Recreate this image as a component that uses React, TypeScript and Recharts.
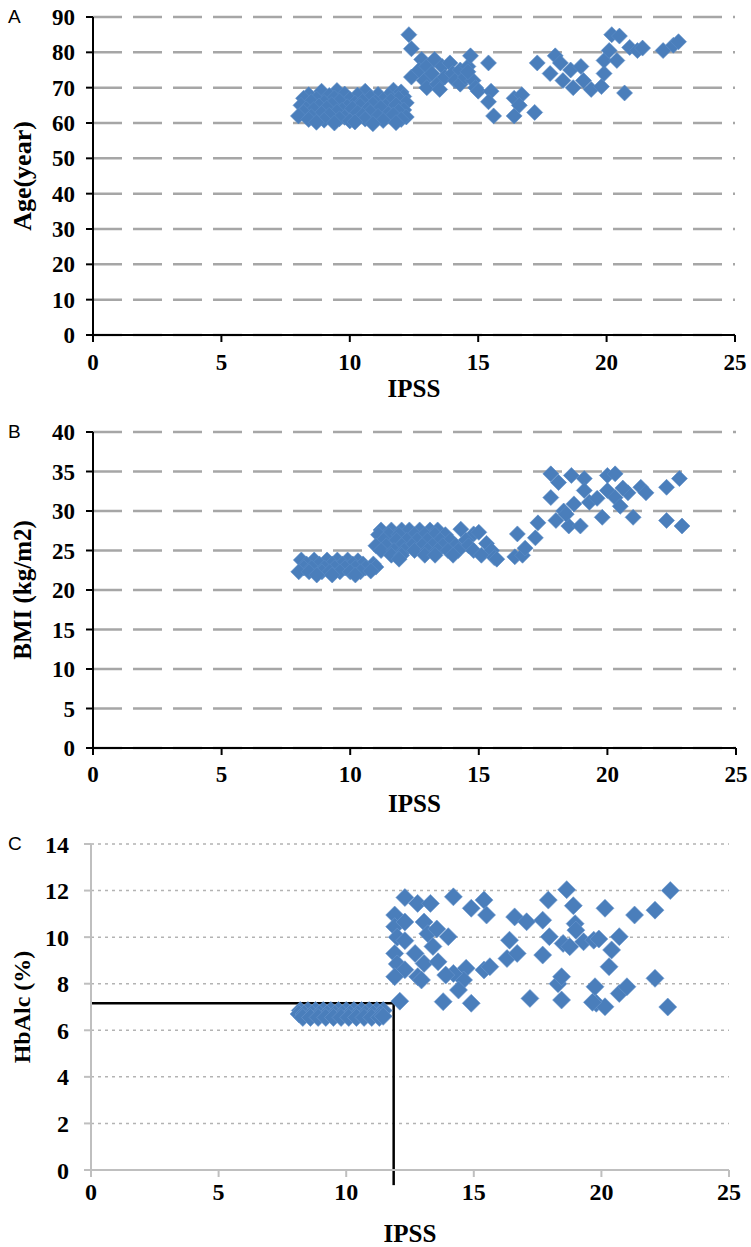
import React from "react";
import { ScatterChart, Scatter, XAxis, YAxis, CartesianGrid, ReferenceLine } from "recharts";

const ipssTicks = [0, 5, 10, 15, 20, 25];
const ageTicks = [0, 10, 20, 30, 40, 50, 60, 70, 80, 90];
const bmiTicks = [0, 5, 10, 15, 20, 25, 30, 35, 40];
const hba1cTicks = [0, 2, 4, 6, 8, 10, 12, 14];

// [IPSS, age]
const agePoints: [number, number][] = [
  [8.9, 69], [9.5, 69.2], [10.6, 69], [11.7, 69.3], [12.0, 68.8],
  [8.4, 68], [9.2, 67.8], [9.8, 68.2], [10.3, 67.9], [11.1, 68.1], [11.5, 67.7], [12.1, 67.5],
  [8.2, 67], [8.7, 66.8], [9.4, 67.1], [10.0, 66.7], [10.8, 67.2], [11.3, 66.5], [11.9, 66.9],
  [8.5, 66], [9.0, 65.8], [9.6, 66.2], [10.2, 65.6], [10.5, 66.1], [11.0, 65.9], [11.6, 66.3], [12.2, 65.7],
  [8.1, 65], [8.8, 64.8], [9.3, 65.2], [9.9, 64.6], [10.4, 64.9], [10.9, 65.3], [11.4, 64.7], [11.8, 65.1],
  [8.3, 64], [8.6, 63.8], [9.1, 64.2], [9.7, 63.6], [10.1, 64.1], [10.7, 63.9], [11.2, 64.3], [12.1, 63.7],
  [8.2, 63], [8.9, 62.7], [9.5, 63.2], [10.3, 62.9], [10.8, 63.1], [11.5, 62.6], [11.9, 63.3],
  [8.0, 62], [8.5, 61.8], [9.2, 62.2], [9.8, 61.6], [10.5, 62.1], [11.1, 61.9], [11.7, 62.3], [12.2, 61.7],
  [8.4, 61], [9.0, 60.8], [9.6, 61.2], [10.0, 60.6], [10.6, 61.1], [11.3, 60.7], [12.0, 61.0],
  [8.7, 60.2], [9.4, 60], [10.2, 60.3], [10.9, 59.8], [11.8, 60.1],
  [12.3, 85], [12.4, 81], [12.4, 73], [12.8, 78], [12.7, 75], [12.9, 72], [13.0, 70], [13.0, 76],
  [13.2, 74], [13.3, 78], [13.4, 71], [13.5, 69.5], [13.6, 76], [13.7, 73], [13.9, 77], [14.0, 74],
  [14.1, 72], [14.3, 75], [14.3, 71], [14.5, 73], [14.6, 76], [14.7, 79], [14.8, 72], [14.9, 70],
  [15.0, 69], [14.6, 74.5], [15.4, 77], [15.5, 69], [15.4, 66], [15.6, 62],
  [16.4, 67], [16.7, 68], [16.6, 65], [16.4, 62], [17.2, 63], [17.3, 77],
  [18.0, 79], [17.8, 74], [18.2, 77], [18.3, 72], [18.6, 75], [18.7, 70], [19.0, 76], [19.1, 72],
  [19.4, 69.5], [19.8, 70.3], [19.9, 74], [19.9, 77.7], [20.1, 80.5], [20.2, 85], [20.5, 84.6],
  [20.4, 77.7], [20.7, 68.5], [20.9, 81.4], [21.2, 80.5], [21.4, 81.2], [22.2, 80.5], [22.6, 82], [22.8, 83],
];

// [IPSS, BMI]
const bmiPoints: [number, number][] = [
  [8.1, 23.8], [8.6, 23.8], [9.1, 23.8], [9.5, 23.8], [9.9, 23.8], [10.3, 23.7],
  [8.3, 23.3], [8.8, 23.3], [9.3, 23.3], [9.7, 23.3], [10.1, 23.3], [10.5, 23.3], [10.9, 23.3],
  [8.2, 22.8], [8.5, 22.8], [9.0, 22.8], [9.4, 22.8], [9.8, 22.8], [10.2, 22.8], [10.6, 22.8], [11.0, 22.9],
  [8.0, 22.3], [8.4, 22.3], [8.9, 22.3], [9.2, 22.3], [9.6, 22.3], [10.0, 22.3], [10.4, 22.3], [10.8, 22.4],
  [8.7, 21.9], [9.3, 21.9], [10.2, 21.9],
  [11.2, 27.6], [11.6, 27.6], [12.0, 27.6], [12.3, 27.6], [12.7, 27.6], [13.1, 27.6], [13.4, 27.6], [14.3, 27.7],
  [11.1, 27.0], [11.5, 27.0], [11.9, 27.0], [12.5, 27.0], [12.9, 27.0], [13.3, 27.0], [13.7, 27.0], [14.8, 27.1], [15.0, 27.3],
  [11.3, 26.3], [11.8, 26.3], [12.2, 26.3], [12.6, 26.3], [13.0, 26.3], [13.5, 26.3], [13.9, 26.3], [14.5, 26.3],
  [11.0, 25.6], [11.4, 25.6], [12.0, 25.6], [12.4, 25.6], [12.8, 25.6], [13.2, 25.6], [13.6, 25.6], [14.1, 25.6], [14.6, 25.6], [15.3, 25.9],
  [11.2, 25.0], [11.7, 25.0], [12.1, 25.0], [12.5, 25.0], [13.0, 25.0], [13.4, 25.0], [13.8, 25.0], [14.2, 25.0], [14.8, 25.0], [15.5, 25.0],
  [11.6, 24.4], [12.0, 24.4], [12.9, 24.4], [13.3, 24.4], [14.0, 24.4], [15.1, 24.4], [15.6, 24.1],
  [11.9, 23.9], [15.7, 23.9],
  [16.5, 27.1], [16.4, 24.2], [16.7, 24.4], [16.8, 25.3], [17.2, 26.6], [17.3, 28.5],
  [17.8, 31.7], [17.8, 34.7], [18.1, 33.6], [18.6, 34.5], [19.1, 34.1], [18.0, 28.8], [18.5, 28.1], [18.95, 28.1],
  [18.3, 30.0], [18.7, 30.9], [19.1, 32.6], [19.3, 31.1], [19.8, 29.2], [20.0, 34.5], [20.3, 34.7], [20.0, 32.6],
  [20.3, 31.7], [20.5, 30.6], [20.8, 32.3], [21.0, 29.2], [21.3, 33.0], [21.5, 32.3], [22.3, 33.0], [22.3, 28.8],
  [22.8, 34.1], [22.9, 28.1], [18.4, 29.6], [19.6, 31.6], [20.6, 32.9],
];

// [IPSS, HbAlc]
const hba1cPoints: [number, number][] = [
  [8.2, 6.85], [8.5, 6.85], [8.8, 6.85], [9.1, 6.85], [9.4, 6.85], [9.7, 6.85], [10.0, 6.85], [10.3, 6.85],
  [10.6, 6.85], [10.9, 6.85], [11.2, 6.85], [11.45, 6.85],
  [8.15, 6.7], [8.35, 6.7], [8.65, 6.7], [8.95, 6.7], [9.25, 6.7], [9.55, 6.7], [9.85, 6.7], [10.15, 6.7],
  [10.45, 6.7], [10.75, 6.7], [11.05, 6.7], [11.35, 6.7],
  [8.3, 6.55], [8.6, 6.55], [8.9, 6.55], [9.2, 6.55], [9.5, 6.55], [9.8, 6.55], [10.1, 6.55], [10.4, 6.55],
  [10.7, 6.55], [11.0, 6.55], [11.3, 6.55], [11.45, 6.6],
  [11.9, 10.95], [11.9, 10.45], [12.0, 10.0], [12.3, 9.85], [11.9, 9.3], [12.0, 8.85], [12.3, 8.6], [11.9, 8.3],
  [12.1, 7.25], [12.3, 10.65], [12.3, 11.7], [12.8, 11.45], [13.3, 11.45], [13.05, 10.65], [13.2, 10.15],
  [13.55, 10.35], [13.4, 9.6], [12.7, 9.3], [13.05, 8.87], [13.6, 8.94], [12.8, 8.3], [12.95, 8.16],
  [14.2, 11.73], [14.0, 10.02], [13.8, 7.23], [14.7, 8.66], [14.6, 8.16], [14.4, 7.73], [14.2, 8.44],
  [13.9, 8.37], [14.9, 11.24], [14.9, 7.16], [15.4, 11.59], [15.5, 10.95], [15.4, 8.59], [15.63, 8.73],
  [16.3, 9.08], [16.4, 9.87], [16.7, 9.3], [16.6, 10.87], [17.07, 10.66], [17.2, 7.37], [17.7, 10.73],
  [17.96, 10.02], [17.7, 9.23], [17.92, 11.59], [18.3, 8.0], [18.44, 8.3], [18.44, 7.3], [18.5, 9.73],
  [18.76, 9.59], [18.64, 12.04], [18.9, 11.35], [18.97, 10.58], [19.0, 10.3], [19.3, 9.8], [19.7, 9.87],
  [19.9, 9.92], [19.75, 7.87], [19.8, 7.16], [20.14, 7.01], [19.65, 7.2], [20.14, 11.24], [20.3, 8.73],
  [20.4, 9.45], [20.7, 10.02], [20.7, 7.58], [21.0, 7.87], [21.3, 10.95], [22.1, 11.16], [22.1, 8.23],
  [22.7, 12.0], [22.6, 7.0],
];

const hba1cCutoff = 7.16;
const ipssCutoff = 11.86;

const BLUE = "#4a7ebb";

const toXY = (pts: [number, number][]) => pts.map(([x, y]) => ({ x, y }));

const diamond = (half: number, stroke: string) => (props: any) => {
  const { cx, cy } = props;
  if (cx == null || cy == null) return <g />;
  return (
    <path
      d={`M${cx},${cy - half}L${cx + half},${cy}L${cx},${cy + half}L${cx - half},${cy}Z`}
      fill={BLUE}
      stroke={stroke}
      strokeWidth={0.6}
    />
  );
};

const yTitle = (value: string, dx: number, size: number) => (p: any) => {
  const vb = p.viewBox;
  const x = vb.x + dx;
  const y = vb.y + vb.height / 2;
  return (
    <text
      x={x}
      y={y}
      transform={`rotate(-90, ${x}, ${y})`}
      textAnchor="middle"
      dominantBaseline="central"
      fontFamily="Liberation Serif"
      fontWeight="bold"
      fontSize={size}
      fill="#000"
    >
      {value}
    </text>
  );
};

const xTitle = (value: string, dy: number) => (p: any) => {
  const vb = p.viewBox;
  return (
    <text
      x={vb.x + vb.width / 2}
      y={vb.y + dy}
      textAnchor="middle"
      dominantBaseline="central"
      fontFamily="Liberation Serif"
      fontWeight="bold"
      fontSize={25}
      fill="#000"
    >
      {value}
    </text>
  );
};

const panelLetter = (top: number, text: string) => (
  <div
    style={{
      position: "absolute",
      left: 8,
      top: top - 11,
      fontFamily: "Liberation Sans",
      fontSize: 19,
      lineHeight: "22px",
      color: "#000",
    }}
  >
    {text}
  </div>
);

const blackTick = { fill: "#000", fontSize: 23, fontFamily: "Liberation Serif", fontWeight: "bold" };
const boldTick = { fill: "#000", fontSize: 24, fontFamily: "Liberation Serif", fontWeight: "bold" };

export default function App() {
  return (
    <div style={{ position: "absolute", left: 0, top: 0, width: 751, height: 1247, background: "#fff" }}>
      {panelLetter(17, "A")}
      {panelLetter(432, "B")}
      {panelLetter(844, "C")}

      <div style={{ position: "absolute", left: 0, top: 0 }}>
        <ScatterChart width={751} height={420} margin={{ top: 17, right: 16, bottom: 15, left: 0 }}>
          <CartesianGrid horizontal vertical={false} stroke="#a6a6a6" strokeWidth={2.5} strokeDasharray="29 11" />
          <XAxis
            type="number"
            dataKey="x"
            domain={[0, 25]}
            ticks={ipssTicks}
            interval={0}
            height={70}
            axisLine={{ stroke: "#000", strokeWidth: 2 }}
            tickLine={{ stroke: "#000", strokeWidth: 2 }}
            tickSize={7}
            tickMargin={12}
            tick={blackTick}
            label={xTitle("IPSS", 53)}
          />
          <YAxis
            type="number"
            dataKey="y"
            domain={[0, 90]}
            ticks={ageTicks}
            interval={0}
            width={93}
            axisLine={{ stroke: "#000", strokeWidth: 2 }}
            tickLine={{ stroke: "#000", strokeWidth: 2 }}
            tickSize={7}
            tickMargin={11}
            tick={blackTick}
            label={yTitle("Age(year)", 22, 26)}
          />
          <Scatter data={toXY(agePoints)} shape={diamond(8, "#5b8bc6")} isAnimationActive={false} />
        </ScatterChart>
      </div>

      <div style={{ position: "absolute", left: 0, top: 420 }}>
        <ScatterChart width={751} height={410} margin={{ top: 12, right: 15, bottom: 15, left: 0 }}>
          <CartesianGrid horizontal vertical={false} stroke="#a6a6a6" strokeWidth={2.5} strokeDasharray="29 11" />
          <XAxis
            type="number"
            dataKey="x"
            domain={[0, 25]}
            ticks={ipssTicks}
            interval={0}
            height={67}
            axisLine={{ stroke: "#000", strokeWidth: 2 }}
            tickLine={{ stroke: "#000", strokeWidth: 2 }}
            tickSize={7}
            tickMargin={11}
            tick={blackTick}
            label={xTitle("IPSS", 55)}
          />
          <YAxis
            type="number"
            dataKey="y"
            domain={[0, 40]}
            ticks={bmiTicks}
            interval={0}
            width={93}
            axisLine={{ stroke: "#000", strokeWidth: 2 }}
            tickLine={{ stroke: "#000", strokeWidth: 2 }}
            tickSize={7}
            tickMargin={11}
            tick={blackTick}
            label={yTitle("BMI (kg/m2)", 22, 25)}
          />
          <Scatter data={toXY(bmiPoints)} shape={diamond(8, "#5b8bc6")} isAnimationActive={false} />
        </ScatterChart>
      </div>

      <div style={{ position: "absolute", left: 0, top: 830 }}>
        <ScatterChart width={751} height={417} margin={{ top: 14, right: 22, bottom: 15, left: 0 }}>
          <CartesianGrid horizontal vertical={false} stroke="#b3b3b3" strokeWidth={1.5} strokeDasharray="3 4" />
          <XAxis
            type="number"
            dataKey="x"
            domain={[0, 25]}
            ticks={ipssTicks}
            interval={0}
            height={62}
            axisLine={{ stroke: "#bfbfbf", strokeWidth: 2 }}
            tickLine={{ stroke: "#bfbfbf", strokeWidth: 2 }}
            tickSize={7}
            tickMargin={6}
            tick={boldTick}
            label={xTitle("IPSS", 63)}
          />
          <YAxis
            type="number"
            dataKey="y"
            domain={[0, 14]}
            ticks={hba1cTicks}
            interval={0}
            width={91}
            axisLine={{ stroke: "#bfbfbf", strokeWidth: 2 }}
            tickLine={{ stroke: "#bfbfbf", strokeWidth: 2 }}
            tickSize={7}
            tickMargin={15}
            tick={boldTick}
            label={yTitle("HbAlc (%)", 22, 24)}
          />
          <Scatter data={toXY(hba1cPoints)} shape={diamond(9, "#6a97cf")} isAnimationActive={false} />
          <ReferenceLine
            segment={[{ x: 0, y: hba1cCutoff }, { x: ipssCutoff, y: hba1cCutoff }]}
            stroke="#000"
            strokeWidth={2.5}
            ifOverflow="visible"
          />
          <ReferenceLine
            segment={[{ x: ipssCutoff, y: hba1cCutoff }, { x: ipssCutoff, y: -0.65 }]}
            stroke="#000"
            strokeWidth={2.5}
            ifOverflow="visible"
          />
        </ScatterChart>
      </div>
    </div>
  );
}
